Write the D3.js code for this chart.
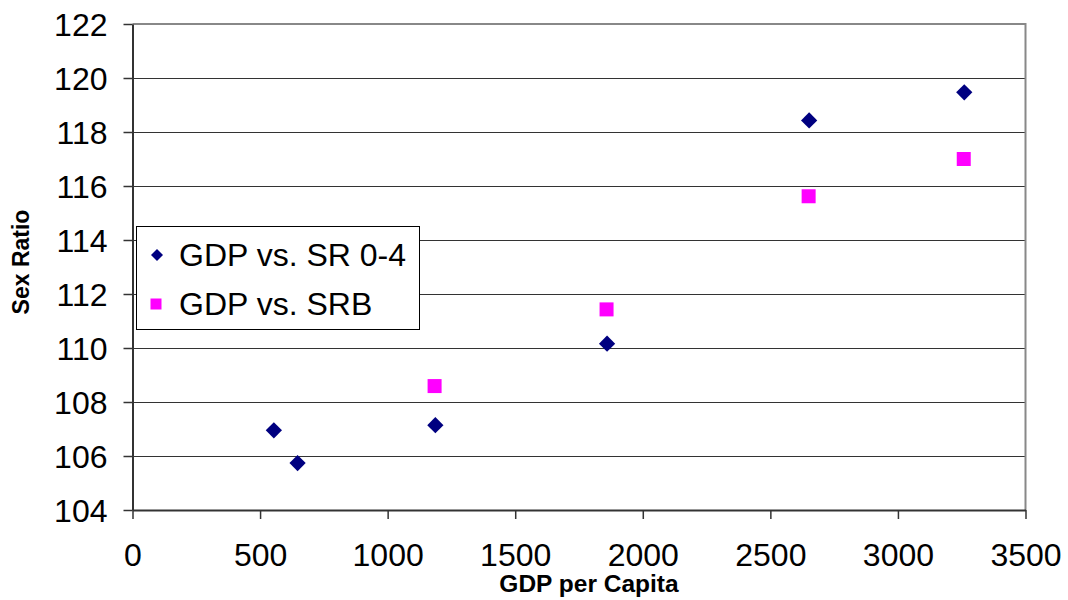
<!DOCTYPE html>
<html>
<head>
<meta charset="utf-8">
<script src="https://cdn.jsdelivr.net/npm/d3@7"></script>
<style>
  body { margin: 0; background: #fff; }
  svg { font-family: "Liberation Sans", Arial, sans-serif; }
</style>
</head>
<body>
<svg width="1068" height="600"></svg>
<script>
let width = 1068, height = 600;

// data
let sr04Gdp = [554, 647, 1187, 1860, 2652, 3260];
let sr04Val = [106.95, 105.74, 107.14, 110.16, 118.43, 119.47];
let srbGdp = [1184, 1858, 2650, 3258];
let srbVal = [108.59, 111.43, 115.62, 117.0];
let xTicks = [0, 500, 1000, 1500, 2000, 2500, 3000, 3500];
let yTicks = [104, 106, 108, 110, 112, 114, 116, 118, 120, 122];
let seriesNames = ["GDP vs. SR 0-4", "GDP vs. SRB"];

let svg = d3.select("svg");

let plotL = 132.5, plotR = 1025.5, plotT = 24, plotB = 510;

let x = d3.scaleLinear().domain([0, 3500]).range([plotL, plotR]);
let y = d3.scaleLinear().domain([104, 122]).range([plotB, plotT]);

// gridlines
svg.append("g")
    .selectAll("line")
    .data(yTicks.slice(1, -1))
    .enter()
    .append("line")
    .attr("x1", plotL).attr("x2", plotR)
    .attr("y1", d => Math.round(y(d)) + 0.5).attr("y2", d => Math.round(y(d)) + 0.5)
    .attr("stroke", "#333").attr("stroke-width", 1);

// plot frame (top and right in grey)
svg.append("path")
    .attr("d", `M${plotL},${plotT} H${plotR} V${plotB}`)
    .attr("fill", "none")
    .attr("stroke", "#888")
    .attr("stroke-width", 2);

// axes
let xAxis = d3.axisBottom(x).tickValues(xTicks).tickFormat(d3.format("d"))
    .tickSize(9).tickPadding(24).tickSizeOuter(0);
let yAxis = d3.axisLeft(y).tickValues(yTicks).tickFormat(d3.format("d"))
    .tickSize(9).tickPadding(16).tickSizeOuter(0);

let gx = svg.append("g").attr("transform", `translate(0,${plotB})`).call(xAxis);
let gy = svg.append("g").attr("transform", `translate(${plotL},0)`).call(yAxis);

[gx, gy].forEach(g => {
    g.select(".domain").attr("stroke", "#333").attr("stroke-width", 2);
    g.selectAll(".tick line").attr("stroke", "#333").attr("stroke-width", 1.5);
    g.selectAll(".tick text")
        .attr("fill", "#000")
        .style("font-size", "32px")
        .style("font-family", "'Liberation Sans', Arial, sans-serif");
});
gx.selectAll(".tick text").attr("dy", "0.71em");
gy.selectAll(".tick text").attr("dy", "0.36em");

// series
let diamond = d3.symbol().type(d3.symbolSquare).size(132);
svg.append("g")
    .selectAll("path")
    .data(sr04Gdp.map((g, i) => [g, sr04Val[i]]))
    .enter()
    .append("path")
    .attr("d", diamond)
    .attr("transform", d => `translate(${x(d[0])},${y(d[1])}) rotate(45)`)
    .attr("fill", "#000080");

svg.append("g")
    .selectAll("rect")
    .data(srbGdp.map((g, i) => [g, srbVal[i]]))
    .enter()
    .append("rect")
    .attr("x", d => x(d[0]) - 7)
    .attr("y", d => y(d[1]) - 7)
    .attr("width", 14).attr("height", 14)
    .attr("fill", "#ff00ff");

// axis titles
svg.append("text")
    .attr("x", 589).attr("y", 592)
    .attr("text-anchor", "middle")
    .style("font-size", "24.5px").style("font-weight", "bold")
    .text("GDP per Capita");

svg.append("text")
    .attr("transform", "translate(29,262) rotate(-90)")
    .attr("text-anchor", "middle")
    .style("font-size", "23px").style("font-weight", "bold")
    .text("Sex Ratio");

// legend
let legend = svg.append("g").attr("transform", "translate(136,226)");
legend.append("rect")
    .attr("x", 0.5).attr("y", 0.5)
    .attr("width", 283).attr("height", 103)
    .attr("fill", "#fff").attr("stroke", "#000").attr("stroke-width", 1);

let legenditem = legend.selectAll(".legenditem")
    .data(seriesNames)
    .enter()
    .append("g")
    .attr("class", "legenditem")
    .attr("transform", (d, i) => `translate(0,${29 + i * 49})`);

legenditem.append("path")
    .attr("d", (d, i) => i == 0
        ? d3.symbol().type(d3.symbolSquare).size(72)()
        : d3.symbol().type(d3.symbolSquare).size(121)())
    .attr("transform", (d, i) => i == 0 ? "translate(21,0) rotate(45)" : "translate(20,0)")
    .attr("fill", (d, i) => i == 0 ? "#000080" : "#ff00ff");

legenditem.append("text")
    .attr("x", 43).attr("y", 11)
    .style("font-size", "32px")
    .text(d => d);
</script>
</body>
</html>
